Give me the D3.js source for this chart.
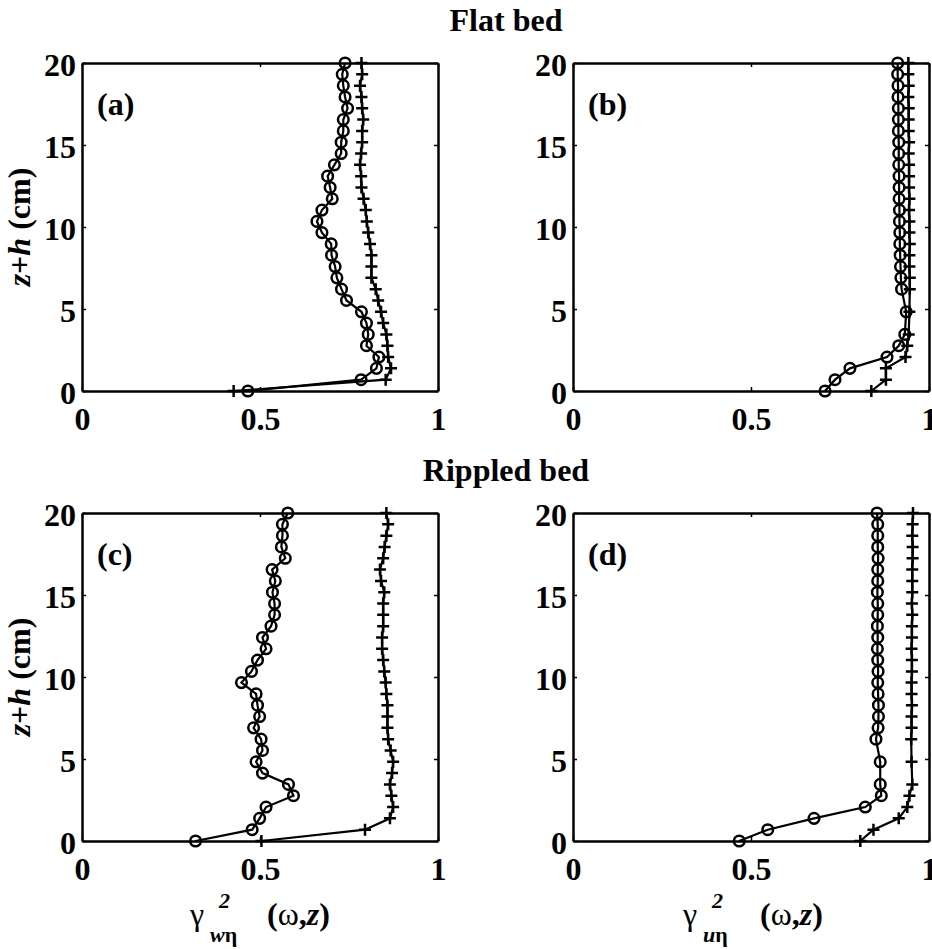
<!DOCTYPE html>
<html>
<head>
<meta charset="utf-8">
<script src="https://cdn.jsdelivr.net/npm/d3@7"></script>
<style>
  body { margin: 0; background: #fff; }
  svg { display: block; }
</style>
</head>
<body>
<svg id="graphique" width="932" height="949"></svg>
<script>
// depth of each measurement level, z+h in cm
var zLevels = [0, 0.69, 1.38, 2.07, 2.76, 3.45, 4.14, 4.83, 5.52, 6.21, 6.9, 7.59, 8.28, 8.97, 9.66,
               10.34, 11.03, 11.72, 12.41, 13.1, 13.79, 14.48, 15.17, 15.86, 16.55, 17.24, 17.93, 18.62, 19.31, 20];

// (a) flat bed, w-eta
var flatW_circ = [0.466, 0.784, 0.827, 0.834, 0.799, 0.804, 0.799, 0.785, 0.743, 0.729, 0.716, 0.711, 0.701, 0.700, 0.674,
                  0.660, 0.674, 0.703, 0.697, 0.690, 0.709, 0.728, 0.728, 0.734, 0.734, 0.746, 0.739, 0.734, 0.731, 0.739];
var flatW_plus = [0.426, 0.853, 0.868, 0.860, 0.858, 0.855, 0.846, 0.840, 0.832, 0.825, 0.813, 0.813, 0.813, 0.809, 0.804,
                  0.800, 0.797, 0.791, 0.785, 0.784, 0.781, 0.784, 0.787, 0.787, 0.790, 0.787, 0.785, 0.781, 0.787, 0.785];

// (b) flat bed, u-eta (no data at two levels)
var flatU_circ = [0.708, 0.736, 0.778, 0.882, 0.915, 0.932, null, 0.936, null, 0.923, 0.921, 0.920, 0.919, 0.918, 0.918,
                  0.917, 0.917, 0.916, 0.916, 0.916, 0.915, 0.915, 0.915, 0.914, 0.914, 0.914, 0.913, 0.913, 0.912, 0.912];
var flatU_plus = [0.838, 0.879, 0.879, 0.934, 0.939, 0.943, null, 0.945, null, 0.946, 0.946, 0.945, 0.945, 0.946, 0.945,
                  0.945, 0.944, 0.945, 0.944, 0.944, 0.944, 0.943, 0.944, 0.943, 0.943, 0.943, 0.942, 0.943, 0.942, 0.942];

// (c) rippled bed, w-eta
var ripW_circ = [0.319, 0.478, 0.499, 0.517, 0.594, 0.580, 0.507, 0.489, 0.507, 0.503, 0.482, 0.499, 0.493, 0.489, 0.448,
                 0.476, 0.493, 0.517, 0.507, 0.531, 0.541, 0.541, 0.535, 0.543, 0.534, 0.571, 0.560, 0.563, 0.563, 0.578];
var ripW_plus = [0.504, 0.795, 0.865, 0.874, 0.869, 0.865, 0.871, 0.874, 0.867, 0.860, 0.858, 0.858, 0.858, 0.855, 0.853,
                 0.849, 0.846, 0.843, 0.843, 0.846, 0.846, 0.846, 0.849, 0.840, 0.837, 0.846, 0.850, 0.855, 0.860, 0.855];

// (d) rippled bed, u-eta
var ripU_circ = [0.467, 0.547, 0.677, 0.821, 0.866, 0.863, null, 0.863, null, 0.851, 0.857, 0.858, 0.858, 0.857, 0.856,
                 0.857, 0.856, 0.855, 0.856, 0.855, 0.856, 0.856, 0.855, 0.856, 0.856, 0.857, 0.856, 0.856, 0.856, 0.854];
var ripU_plus = [0.807, 0.844, 0.915, 0.939, 0.945, 0.953, null, 0.951, null, 0.950, 0.951, 0.951, 0.952, 0.951, 0.951,
                 0.952, 0.952, 0.951, 0.952, 0.952, 0.953, 0.952, 0.953, 0.953, 0.953, 0.954, 0.954, 0.953, 0.954, 0.955];

var xTicks = [0, 0.5, 1];
var yTicks = [0, 5, 10, 15, 20];
var rowTitles = ["Flat bed", "Rippled bed"];
var panelNames = ["(a)", "(b)", "(c)", "(d)"];

var FONT = "'Liberation Serif', 'Times New Roman', serif";
var W = 356, H = 328;

var panels = [
  { left: 82,  top: 63,  name: panelNames[0], circ: flatW_circ, plus: flatW_plus },
  { left: 573, top: 63,  name: panelNames[1], circ: flatU_circ, plus: flatU_plus },
  { left: 82,  top: 513, name: panelNames[2], circ: ripW_circ,  plus: ripW_plus },
  { left: 573, top: 513, name: panelNames[3], circ: ripU_circ,  plus: ripU_plus }
];

var svg = d3.select("#graphique");

function toPoints(vals){
  var pts = [];
  for(var i = 0; i < vals.length; i++){
    if(vals[i] === null) continue;
    pts.push({ x: vals[i], z: zLevels[i] });
  }
  return pts;
}

function styleAxis(g){
  g.attr("font-family", FONT).attr("font-size", 32).attr("font-weight", "bold");
  g.select(".domain").attr("stroke", "#000").attr("stroke-width", 2.5);
  g.selectAll(".tick line").attr("stroke", "#000").attr("stroke-width", 1.5);
  g.selectAll("text").attr("fill", "#000");
}

function drawPanel(p){
  var xScale = d3.scaleLinear().domain([0, 1]).range([p.left, p.left + W]);
  var yScale = d3.scaleLinear().domain([0, 20]).range([p.top + H, p.top]);
  var g = svg.append("g");

  // box with inward ticks on all four sides
  g.append("g")
    .attr("transform", "translate(0," + (p.top + H) + ")")
    .call(d3.axisBottom(xScale).tickValues(xTicks).tickSizeInner(-4).tickSizeOuter(0).tickPadding(16).tickFormat(function(d){ return String(d); }))
    .call(styleAxis);
  g.append("g")
    .attr("transform", "translate(0," + p.top + ")")
    .call(d3.axisTop(xScale).tickValues(xTicks).tickSizeInner(-4).tickSizeOuter(0).tickFormat(""))
    .call(styleAxis);
  var yl = g.append("g")
    .attr("transform", "translate(" + p.left + ",0)")
    .call(d3.axisLeft(yScale).tickValues(yTicks).tickSizeInner(-4).tickSizeOuter(0).tickPadding(6))
    .call(styleAxis);
  yl.selectAll("text").attr("dy", "0.4em");
  g.append("g")
    .attr("transform", "translate(" + (p.left + W) + ",0)")
    .call(d3.axisRight(yScale).tickValues(yTicks).tickSizeInner(-4).tickSizeOuter(0).tickFormat(""))
    .call(styleAxis);

  var line = d3.line()
    .x(function(d){ return xScale(d.x); })
    .y(function(d){ return yScale(d.z); });

  var plusPts = toPoints(p.plus);
  var circPts = toPoints(p.circ);

  g.append("path").attr("d", line(plusPts))
    .attr("fill", "none").attr("stroke", "#000").attr("stroke-width", 2.2);
  g.append("path").attr("d", line(circPts))
    .attr("fill", "none").attr("stroke", "#000").attr("stroke-width", 2.2);

  g.selectAll(".plus").data(plusPts).enter().append("path")
    .attr("class", "plus")
    .attr("transform", function(d){ return "translate(" + xScale(d.x) + "," + yScale(d.z) + ")"; })
    .attr("d", "M-6,0H6M0,-6V6")
    .attr("stroke", "#000").attr("stroke-width", 2.5);

  g.selectAll(".circ").data(circPts).enter().append("circle")
    .attr("class", "circ")
    .attr("cx", function(d){ return xScale(d.x); })
    .attr("cy", function(d){ return yScale(d.z); })
    .attr("r", 5.3)
    .attr("fill", "none").attr("stroke", "#000").attr("stroke-width", 2.5);

  g.append("text")
    .attr("x", p.left + 15).attr("y", p.top + 52)
    .attr("font-family", FONT).attr("font-size", 32).attr("font-weight", "bold")
    .text(p.name);
}

panels.forEach(drawPanel);

// row titles
svg.selectAll(".rowtitle").data(rowTitles).enter().append("text")
  .attr("class", "rowtitle")
  .attr("x", 506)
  .attr("y", function(d, i){ return i === 0 ? 31 : 481; })
  .attr("text-anchor", "middle")
  .attr("font-family", FONT).attr("font-size", 32).attr("font-weight", "bold")
  .text(function(d){ return d; });

// y labels
[panels[0], panels[2]].forEach(function(p){
  var t = svg.append("text")
    .attr("transform", "translate(30," + (p.top + H / 2) + ") rotate(-90)")
    .attr("text-anchor", "middle")
    .attr("font-family", FONT).attr("font-size", 32).attr("font-weight", "bold");
  t.append("tspan").attr("font-style", "italic").text("z");
  t.append("tspan").text("+");
  t.append("tspan").attr("font-style", "italic").text("h");
  t.append("tspan").text(" (cm)");
});

// x labels: gamma^2 with subscript, then (omega,z)
function xLabel(x0, sub){
  var base = 925;
  var g = svg.append("g").attr("font-family", FONT).attr("fill", "#000");
  g.append("text").attr("x", x0).attr("y", base).attr("font-size", 32).text("\u03B3");
  g.append("text").attr("x", x0 + 29).attr("y", base - 17).attr("font-size", 22)
    .attr("font-weight", "bold").attr("font-style", "italic").text("2");
  var s = g.append("text").attr("x", x0 + 20).attr("y", base + 17).attr("font-size", 22).attr("font-weight", "bold");
  s.append("tspan").attr("font-style", "italic").text(sub);
  s.append("tspan").text("\u03B7");
  var r = g.append("text").attr("x", x0 + 77).attr("y", base).attr("font-size", 32).attr("font-weight", "bold");
  r.append("tspan").text("(");
  r.append("tspan").attr("font-weight", "normal").text("\u03C9");
  r.append("tspan").text(",");
  r.append("tspan").attr("font-style", "italic").text("z");
  r.append("tspan").text(")");
}
xLabel(190, "w");
xLabel(683, "u");
</script>
</body>
</html>
